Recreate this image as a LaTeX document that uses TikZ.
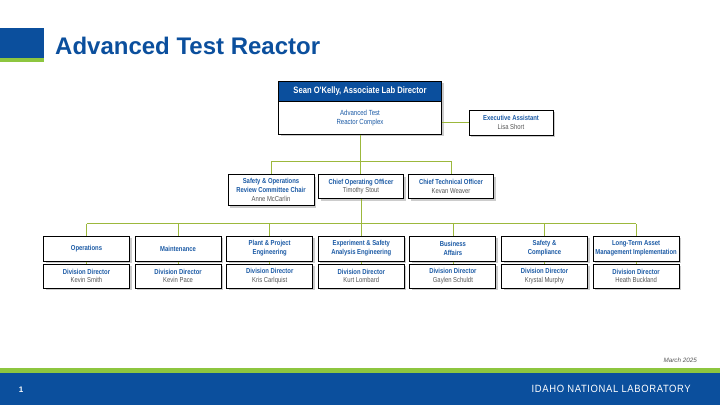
\documentclass[tikz,border=0pt]{standalone}
\usepackage{fontspec}
\setmainfont{Liberation Sans}
\newfontfamily\narrowfont[FakeStretch=0.82]{Liberation Sans}
\newfontfamily\inlfont[FakeStretch=0.9,LetterSpace=6]{Liberation Sans}
\usepackage{tikz}
\usetikzlibrary{shadows}

\definecolor{inlblue}{HTML}{0B4F9D}
\definecolor{inlgreen}{HTML}{8DC63F}
\definecolor{linegreen}{HTML}{9CB83C}
\definecolor{titleblue}{HTML}{1B5AA5}
\definecolor{namegray}{HTML}{555555}

\tikzset{
  orgbox/.style={draw=black, line width=1pt, fill=white, minimum width=86pt,
    inner sep=1pt, align=center, font=\narrowfont\fontsize{7.2}{8.6}\selectfont,
    drop shadow={opacity=0.4, shadow xshift=2pt, shadow yshift=-2.4pt}},
  deptbox/.style={orgbox, minimum height=25pt, text=titleblue,
    font=\narrowfont\bfseries\fontsize{7.2}{8.8}\selectfont},
  link/.style={draw=linegreen, line width=0.8pt},
}
\newcommand{\role}[1]{{\color{titleblue}\bfseries #1}}
\newcommand{\who}[1]{{\color{namegray}#1}}

\begin{document}
\begin{tikzpicture}[x=1pt, y=-1pt]
  \useasboundingbox (0,0) rectangle (720,405);
  % header and footer bands
  \fill[inlblue] (0,28) rectangle (44,58);
  \fill[inlgreen] (0,58) rectangle (44,62);
  \node[anchor=base west, font=\bfseries\fontsize{24}{27}\selectfont, text=inlblue, inner sep=0pt] (title) at (55,54) {Advanced Test Reactor};
  \fill[inlgreen] (0,368) rectangle (720,373);
  \fill[inlblue] (0,373) rectangle (720,405);
  \node[font=\bfseries\fontsize{8}{9}\selectfont, text=white] (page) at (21,390) {1};
  \node[anchor=east, font=\inlfont\fontsize{10.5}{12}\selectfont, text=white, inner sep=0pt] (lab) at (691,389) {IDAHO NATIONAL LABORATORY};
  \node[anchor=east, font=\itshape\fontsize{6.3}{7}\selectfont, text=namegray, inner sep=0pt] (date) at (697,360) {March 2025};

  % top of the chart
  \node[orgbox, minimum width=163pt, minimum height=53pt] (atr) at (360,107.5) {};
  \node[draw=black, line width=1pt, fill=inlblue, minimum width=163pt, minimum height=20pt, anchor=north,
    text=white, font=\narrowfont\bfseries\fontsize{9.3}{11}\selectfont] (ald) at (atr.north) {Sean O'Kelly, Associate Lab Director};
  \node[align=center, text=titleblue, font=\narrowfont\fontsize{7.4}{9}\selectfont] (atrtxt) at (360,118.5) {Advanced Test\\Reactor Complex};
  \node[orgbox, minimum width=84pt, minimum height=25pt] (ea) at (511,122.5) {\role{Executive Assistant}\\\who{Lisa Short}};
  \draw[link] (ea.west -| atr.east) -- (ea.west);

  % second row
  \node[orgbox, minimum width=86pt, minimum height=31pt] (sor) at (271,190) {\role{Safety \& Operations}\\\role{Review Committee Chair}\\\who{Anne McCarlin}};
  \node[orgbox, minimum width=85pt, minimum height=24pt] (coo) at (361,186.5) {\role{Chief Operating Officer}\\\who{Timothy Stout}};
  \node[orgbox, minimum width=85pt, minimum height=24pt] (cto) at (451,186.5) {\role{Chief Technical Officer}\\\who{Kevan Weaver}};
  \coordinate (row2) at (360,161);
  \draw[link] (atr.south) -- (atr.south |- coo.north);
  \draw[link] (sor.north) -- (sor.north |- row2) -- (cto.north |- row2) -- (cto.north);

  % divisions
  \coordinate (row3) at (361,223.5);
  \draw[link] (coo.south) -- (coo.south |- row3);
  \foreach \n/\dept/\boss in {0/Operations/Kevin Smith, 1/Maintenance/Kevin Pace,
      2/{Plant \& Project\\Engineering}/Kris Carlquist,
      3/{Experiment \& Safety\\Analysis Engineering}/Kurt Lombard,
      4/{Business\\Affairs}/Gaylen Schuldt,
      5/{Safety \&\\Compliance}/Krystal Murphy,
      6/{Long-Term Asset\\Management Implementation}/Heath Buckland}{
    \node[deptbox] (dept\n) at ({86.5+91.6*\n},248.5) {\dept};
    \node[orgbox, minimum height=24pt] (dir\n) at ({86.5+91.6*\n},276) {\role{Division Director}\\\who{\boss}};
    \draw[link] (dept\n.north) -- (dept\n.north |- row3);
    \draw[link] (dept\n.south) -- (dir\n.north);
  }
  \draw[link] (dept0.north |- row3) -- (dept6.north |- row3);
\end{tikzpicture}
\end{document}
